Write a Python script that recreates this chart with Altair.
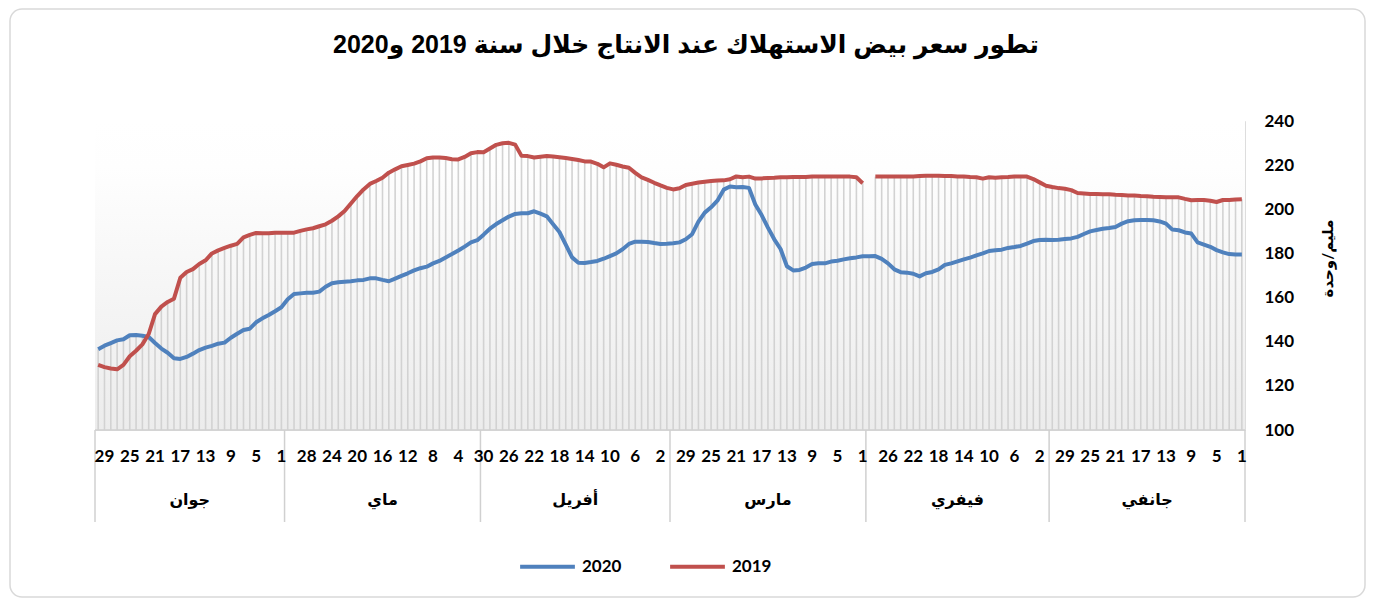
import altair as alt
import pandas as pd
import numpy as np

# ---------------- data ----------------
months = ["جانفي", "فيفري", "مارس", "أفريل", "ماي", "جوان"]
month_days = [31, 29, 31, 30, 31, 30]

s2020_jan = [179.5, 179.5, 179.7, 180.5, 181.5, 183.0, 184.0, 185.0, 189.0, 189.5, 190.5, 190.8, 193.5, 194.5, 195.0, 195.2,
             195.2, 195.0, 194.6, 193.5, 192.0, 191.5, 191.2, 190.6, 190.0, 188.8, 187.5, 186.8, 186.5, 186.2, 186.1]
s2020_feb = [186.2, 186.1, 185.6, 184.4, 183.4, 182.9, 182.5, 181.7, 181.4, 181.1, 180.0, 179.1, 178.1, 177.3, 176.4,
             175.5, 174.8, 172.8, 171.6, 171.0, 169.6, 170.8, 171.3, 171.5, 172.8, 175.5, 177.5, 178.8, 178.7]
s2020_mar = [178.7, 178.2, 177.8, 177.3, 176.7, 176.3, 175.5, 175.5, 175.2, 173.6, 172.5, 172.3, 174.2, 182.0, 186.4,
             191.7, 197.4, 202.2, 209.7, 210.1, 210.0, 210.3, 208.9, 203.9, 200.9, 198.5, 194.4, 188.7, 186.4, 185.0, 184.6]
s2020_apr = [184.4, 184.3, 184.7, 185.2, 185.3, 185.3, 184.3, 181.9, 180.0, 178.8, 177.6, 176.6, 176.1, 175.7, 175.8,
             178.2, 184.0, 189.7, 193.2, 196.8, 198.0, 199.1, 198.2, 198.2, 197.9, 196.7, 195.0, 193.3, 191.2, 188.5]
s2020_may = [186.0, 185.0, 183.1, 181.3, 179.7, 178.2, 176.6, 175.5, 174.0, 173.3, 172.3, 171.0, 169.8, 168.6, 167.4,
             168.0, 168.7, 168.7, 168.0, 167.8, 167.4, 167.2, 166.9, 166.5, 164.9, 162.7, 162.2, 162.2, 161.9, 161.6, 159.2]
s2020_jun = [155.6, 153.8, 152.1, 150.6, 148.8, 145.9, 145.3, 143.6, 141.8, 139.6, 139.1, 138.1, 137.3, 136.2, 134.6,
             133.1, 132.2, 132.5, 135.0, 136.9, 139.4, 142.1, 142.7, 143.0, 142.9, 141.1, 140.6, 139.4, 138.2, 136.6]

s2019_jan = [204.5, 204.4, 204.2, 204.2, 203.3, 203.9, 204.2, 204.2, 204.1, 204.7, 205.4, 205.4, 205.4, 205.6, 205.7,
             205.9, 206.0, 206.2, 206.3, 206.5, 206.6, 206.8, 206.8, 206.9, 206.9, 207.2, 207.4, 208.7, 209.3, 209.6, 210.1]
s2019_feb = [210.7, 212.2, 213.7, 214.8, 214.8, 214.8, 214.6, 214.5, 214.3, 214.5, 213.9, 214.5, 214.6, 214.8, 214.9,
             215.1, 215.1, 215.2, 215.2, 215.2, 215.1, 214.9, 214.9, 214.9, 214.9, 214.8, 214.8, 214.8, None]
s2019_mar = [211.8, 214.5, 214.8, 214.8, 214.8, 214.8, 214.8, 214.8, 214.8, 214.6, 214.6, 214.6, 214.5, 214.5, 214.3,
             214.2, 214.0, 213.9, 214.8, 214.5, 214.9, 213.6, 213.1, 213.0, 212.8, 212.5, 212.1, 211.6, 211.0, 209.5, 209.0]
s2019_apr = [209.7, 210.8, 212.0, 213.3, 214.5, 216.5, 218.8, 219.4, 220.2, 220.8, 219.0, 220.6, 221.6, 221.7, 222.3,
             222.8, 223.2, 223.6, 223.9, 224.1, 223.8, 223.5, 224.1, 224.2, 229.3, 230.1, 229.9, 229.2, 227.5, 225.8]
s2019_may = [225.9, 225.4, 223.7, 222.6, 222.7, 223.2, 223.5, 223.5, 223.1, 221.7, 220.7, 220.1, 219.5, 218.1, 216.6,
             214.3, 212.8, 211.5, 209.0, 206.0, 202.6, 199.2, 196.8, 194.8, 193.2, 192.3, 191.4, 190.9, 190.2, 189.4, 189.4]
s2019_jun = [189.4, 189.4, 189.1, 189.1, 189.3, 188.4, 187.3, 184.3, 183.5, 182.5, 181.4, 180.0, 176.9, 175.2, 172.9,
             171.6, 169.0, 159.5, 158.0, 155.9, 152.5, 143.5, 138.8, 135.9, 133.4, 129.5, 127.5, 127.9, 128.5, 129.5]

series_names = ["2020", "2019"]
series_colors = ["#4F81BD", "#C0504D"]
y_ticks = [100, 120, 140, 160, 180, 200, 220, 240]
title_text = "تطور سعر بيض الاستهلاك عند الانتاج خلال سنة 2019 و2020"
y_title = "مليم/وحدة"

# ---------------- tables ----------------
v2020 = s2020_jan + s2020_feb + s2020_mar + s2020_apr + s2020_may + s2020_jun
v2019 = s2019_jan + s2019_feb + s2019_mar + s2019_apr + s2019_may + s2019_jun
n = len(v2020)

day_of_month, month_of_day = [], []
for m, nd in enumerate(month_days):
    for d in range(1, nd + 1):
        day_of_month.append(d)
        month_of_day.append(m)

days = pd.DataFrame({"idx": range(n), "day": day_of_month, "month": month_of_day,
                     "v2020": v2020, "v2019": [np.nan if v is None else v for v in v2019]})
days["top"] = days[["v2020", "v2019"]].max(axis=1)

rows = []
for i in range(n):
    rows.append({"idx": i, "value": v2020[i], "series": "2020", "seg": "a"})
    if v2019[i] is not None:
        rows.append({"idx": i, "value": v2019[i], "series": "2019", "seg": "a" if i < 59 else "b"})
lines_df = pd.DataFrame(rows)

day_labels = days[days["idx"] % 4 == 0]

starts = np.cumsum([0] + month_days[:-1])
month_df = pd.DataFrame({"name": months,
                         "center": [s + (nd - 1) / 2 for s, nd in zip(starts, month_days)]})
bounds_df = pd.DataFrame({"b": [s - 0.5 for s in starts] + [n - 0.5]})

W, H = 1150, 309
FONT = "Lato, DejaVu Sans"
xscale = alt.Scale(domain=[-0.5, n - 0.5], reverse=True, nice=False, zero=False)
yscale = alt.Scale(domain=[100, 240], nice=False, zero=False)

yaxis = alt.Axis(orient="right", values=y_ticks, title=y_title, domain=False, ticks=False,
                 grid=False, labelPadding=19, labelFont=FONT, labelFontSize=17,
                 labelFontWeight="bold", labelColor="#000000", labelAlign="left",
                 titleFont=FONT, titleFontSize=15, titleFontWeight="bold", titleColor="#000000",
                 titleAngle=270, titleAlign="center", titleBaseline="middle",
                 titleX=82, titleY=137, zindex=2)

base = alt.Chart(days)

frame = alt.Chart(pd.DataFrame({"k": [0]})).mark_rect(
    fill="transparent", fillOpacity=0, stroke="#d9d9d9", strokeWidth=1.5, cornerRadius=12
).encode(x=alt.value(-85), x2=alt.value(1270), y=alt.value(-112), y2=alt.value(476))

bg = alt.Chart(pd.DataFrame({"k": [0]})).mark_rect(
    color=alt.Gradient(gradient="linear", x1=0, x2=0, y1=0, y2=1,
                       stops=[alt.GradientStop(color="#ffffff", offset=0),
                              alt.GradientStop(color="#fefefe", offset=0.15),
                              alt.GradientStop(color="#ececec", offset=1)])
).encode(x=alt.XDatum(-0.5, scale=xscale, axis=None), x2=alt.datum(n - 0.5),
         y=alt.YDatum(240, scale=yscale, axis=yaxis), y2=alt.datum(100))

drops = base.mark_rule(color="#d2d2d2", strokeWidth=1.6).encode(
    x=alt.X("idx:Q", scale=xscale, axis=None),
    y=alt.Y("top:Q", scale=yscale, axis=yaxis),
    y2=alt.datum(100),
)

baseline = alt.Chart(pd.DataFrame({"k": [0]})).mark_rule(color="#d0d0d0", strokeWidth=1.5).encode(
    x=alt.XDatum(-0.5, scale=xscale, axis=None), x2=alt.datum(n - 0.5),
    y=alt.YDatum(100, scale=yscale, axis=yaxis))

seps = alt.Chart(bounds_df).mark_rule(color="#d0d0d0", strokeWidth=1.5).encode(
    x=alt.X("b:Q", scale=xscale, axis=None),
    y=alt.YDatum(100, scale=yscale, axis=yaxis), y2=alt.value(H + 92))

lines = alt.Chart(lines_df).mark_line(strokeWidth=4, strokeJoin="round").encode(
    x=alt.X("idx:Q", scale=xscale, axis=None),
    y=alt.Y("value:Q", scale=yscale, axis=yaxis),
    color=alt.Color("series:N", scale=alt.Scale(domain=series_names, range=series_colors),
                    legend=alt.Legend(orient="none", legendX=423, legendY=416, direction="horizontal",
                                      title=None, symbolType="stroke", symbolSize=3000,
                                      symbolStrokeWidth=4, labelFont=FONT, labelFontSize=17,
                                      labelFontWeight="bold", labelColor="#000000",
                                      columnPadding=40, labelOffset=5)),
    detail="seg:N",
    order="idx:Q",
)

day_text = alt.Chart(day_labels).mark_text(font=FONT, fontSize=17, fontWeight="bold",
                                           color="#000000", baseline="middle").encode(
    x=alt.X("idx:Q", scale=xscale, axis=None), y=alt.value(H + 27), text="day:Q")

month_text = alt.Chart(month_df).mark_text(font=FONT, fontSize=16, fontWeight="bold",
                                           color="#000000", baseline="middle").encode(
    x=alt.X("center:Q", scale=xscale, axis=None), y=alt.value(H + 70), text="name:N")

chart = alt.layer(frame, bg, drops, baseline, seps, lines, day_text, month_text).properties(
    width=W, height=H,
    padding={"left": 87, "top": 113, "right": 122, "bottom": 169},
    autosize=alt.AutoSizeParams(type="none"),
    title=alt.TitleParams(title_text, font="Liberation Sans, DejaVu Sans", fontSize=25,
                          fontWeight="bold", color="#000000", anchor="middle", offset=-50, dx=16),
).configure_view(stroke=None).configure(background="white")

chart.save("out.html", embed_options={"renderer": "svg", "actions": False})
